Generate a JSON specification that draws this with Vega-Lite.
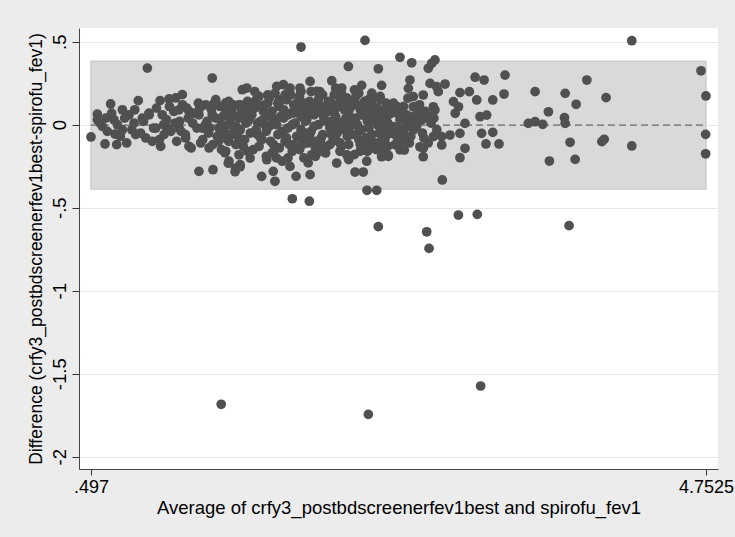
{
 "$schema": "https://vega.github.io/schema/vega-lite/v6.json",
 "width": 639,
 "height": 441,
 "autosize": {"type": "none"},
 "padding": {"left": 79, "top": 28, "right": 17, "bottom": 68},
 "background": "#ececec",
 "config": {"view": {"fill": "white", "stroke": null}, "font": "Liberation Sans Narrow, Liberation Sans, sans-serif"},
 "datasets": {
  "band": [{"x1": 0.497, "x2": 4.7525, "lo": -0.387, "hi": 0.383, "mean": -0.002}],
  "points": [
   {"avg":0.497,"diff":-0.074},{"avg":0.887,"diff":0.341},{"avg":1.336,"diff":0.281},{"avg":0.633,"diff":0.125},{"avg":0.541,"diff":0.064},{"avg":0.541,"diff":0.030},{"avg":0.599,"diff":0.040},{"avg":0.656,"diff":0.030},{"avg":0.575,"diff":-0.010},{"avg":0.594,"diff":-0.116},{"avg":0.675,"diff":-0.120},{"avg":0.744,"diff":-0.110},{"avg":0.663,"diff":-0.056},{"avg":0.714,"diff":-0.030},{"avg":0.714,"diff":0.090},{"avg":0.760,"diff":0.060},{"avg":0.824,"diff":0.145},{"avg":0.795,"diff":0.010},{"avg":0.806,"diff":-0.060},{"avg":0.876,"diff":-0.080},{"avg":0.921,"diff":-0.100},{"avg":0.979,"diff":-0.130},{"avg":0.898,"diff":0.070},{"avg":0.852,"diff":0.040},{"avg":0.975,"diff":0.145},{"avg":1.037,"diff":0.155},{"avg":1.083,"diff":0.161},{"avg":1.129,"diff":0.181},{"avg":0.990,"diff":0.060},{"avg":0.945,"diff":-0.020},{"avg":1.002,"diff":-0.060},{"avg":1.025,"diff":-0.020},{"avg":1.106,"diff":0.090},{"avg":1.175,"diff":0.080},{"avg":1.106,"diff":-0.020},{"avg":1.152,"diff":-0.080},{"avg":1.175,"diff":-0.130},{"avg":1.244,"diff":0.060},{"avg":1.267,"diff":-0.020},{"avg":1.256,"diff":-0.110},{"avg":1.314,"diff":-0.140},{"avg":1.244,"diff":-0.281},{"avg":1.341,"diff":-0.271},{"avg":1.291,"diff":0.120},{"avg":1.360,"diff":0.151},{"avg":1.429,"diff":0.131},{"avg":1.475,"diff":0.100},{"avg":1.521,"diff":0.120},{"avg":1.544,"diff":0.211},{"avg":1.336,"diff":0.060},{"avg":1.383,"diff":-0.020},{"avg":1.452,"diff":0.000},{"avg":1.429,"diff":-0.080},{"avg":1.429,"diff":-0.160},{"avg":1.452,"diff":-0.220},{"avg":1.498,"diff":-0.261},{"avg":1.521,"diff":-0.181},{"avg":1.498,"diff":-0.060},{"avg":1.521,"diff":0.040},
   {"avg":1.950,"diff":0.468},{"avg":2.393,"diff":0.508},{"avg":2.635,"diff":0.406},{"avg":2.278,"diff":0.351},{"avg":2.485,"diff":0.337},{"avg":1.575,"diff":0.221},{"avg":1.782,"diff":0.231},{"avg":1.828,"diff":0.241},{"avg":1.874,"diff":0.221},{"avg":1.943,"diff":0.221},{"avg":2.013,"diff":0.261},{"avg":2.059,"diff":0.201},{"avg":2.163,"diff":0.265},{"avg":2.232,"diff":0.221},{"avg":2.267,"diff":0.161},{"avg":2.370,"diff":0.237},{"avg":2.416,"diff":0.151},{"avg":2.508,"diff":0.237},{"avg":2.497,"diff":0.171},{"avg":2.612,"diff":0.111},{"avg":2.554,"diff":0.060},{"avg":2.474,"diff":0.080},{"avg":2.405,"diff":0.040},{"avg":1.678,"diff":-0.311},{"avg":1.758,"diff":-0.281},{"avg":1.770,"diff":-0.341},{"avg":1.916,"diff":-0.311},{"avg":2.013,"diff":-0.301},{"avg":2.197,"diff":-0.231},{"avg":2.324,"diff":-0.285},{"avg":2.381,"diff":-0.285},{"avg":2.407,"diff":-0.395},{"avg":2.474,"diff":-0.395},{"avg":1.890,"diff":-0.446},{"avg":2.008,"diff":-0.461},{"avg":1.713,"diff":-0.211},{"avg":1.758,"diff":-0.170},{"avg":1.874,"diff":-0.251},{"avg":1.598,"diff":-0.201},{"avg":1.529,"diff":-0.241},{"avg":2.024,"diff":-0.181},{"avg":2.082,"diff":-0.110},{"avg":2.220,"diff":-0.110},{"avg":2.267,"diff":-0.181},{"avg":2.359,"diff":-0.160},{"avg":2.451,"diff":-0.140},{"avg":2.520,"diff":-0.181},{"avg":2.554,"diff":-0.190},{"avg":2.635,"diff":-0.151},{"avg":2.658,"diff":-0.080},{"avg":2.405,"diff":-0.220},{"avg":2.531,"diff":-0.080},{"avg":2.531,"diff":-0.110},
   {"avg":2.485,"diff":-0.614},{"avg":1.494,"diff":-0.283},{"avg":1.529,"diff":-0.253},{"avg":1.447,"diff":-0.232},{"avg":1.424,"diff":-0.169},
   {"avg":2.716,"diff":0.373},{"avg":2.831,"diff":0.340},{"avg":2.855,"diff":0.370},{"avg":2.877,"diff":0.390},{"avg":2.704,"diff":0.269},{"avg":2.693,"diff":0.219},{"avg":2.727,"diff":0.169},{"avg":2.796,"diff":0.179},{"avg":2.727,"diff":0.108},{"avg":2.843,"diff":0.249},{"avg":2.889,"diff":0.229},{"avg":2.947,"diff":0.245},{"avg":2.900,"diff":0.199},{"avg":3.050,"diff":0.193},{"avg":3.115,"diff":0.199},{"avg":3.166,"diff":0.149},{"avg":3.005,"diff":0.139},{"avg":3.040,"diff":0.108},{"avg":3.017,"diff":0.069},{"avg":3.155,"diff":0.286},{"avg":3.217,"diff":0.269},{"avg":3.362,"diff":0.299},{"avg":3.355,"diff":0.185},{"avg":3.277,"diff":0.149},{"avg":2.866,"diff":0.108},{"avg":2.877,"diff":0.089},{"avg":2.843,"diff":0.028},{"avg":2.785,"diff":0.028},{"avg":2.751,"diff":0.028},{"avg":2.635,"diff":0.028},{"avg":2.612,"diff":0.108},{"avg":2.589,"diff":-0.012},{"avg":2.681,"diff":-0.012},{"avg":2.727,"diff":-0.032},{"avg":2.658,"diff":-0.052},{"avg":2.624,"diff":-0.082},{"avg":2.566,"diff":-0.052},{"avg":2.520,"diff":-0.032},{"avg":2.531,"diff":-0.082},{"avg":2.508,"diff":-0.133},{"avg":2.497,"diff":0.028},{"avg":2.554,"diff":-0.183},{"avg":2.508,"diff":-0.193},{"avg":2.665,"diff":-0.153},{"avg":2.796,"diff":-0.193},{"avg":2.796,"diff":-0.142},{"avg":2.773,"diff":-0.133},{"avg":2.866,"diff":-0.072},{"avg":2.924,"diff":-0.072},{"avg":2.924,"diff":-0.122},{"avg":2.981,"diff":-0.062},{"avg":3.050,"diff":-0.052},{"avg":3.085,"diff":0.008},{"avg":3.085,"diff":-0.142},{"avg":3.050,"diff":-0.199},{"avg":2.928,"diff":-0.333},{"avg":3.189,"diff":0.048},{"avg":3.235,"diff":0.058},{"avg":3.200,"diff":-0.052},{"avg":3.277,"diff":-0.046},{"avg":3.230,"diff":-0.116},{"avg":3.320,"diff":-0.116},{"avg":3.570,"diff":0.199},{"avg":3.523,"diff":0.008},{"avg":3.570,"diff":0.018},{"avg":3.623,"diff":0.002},{"avg":3.662,"diff":0.078},{"avg":3.778,"diff":0.189},{"avg":3.773,"diff":0.042},{"avg":3.778,"diff":0.008},{"avg":3.854,"diff":0.123},{"avg":3.928,"diff":0.269},{"avg":4.061,"diff":0.163},{"avg":3.812,"diff":-0.106},{"avg":3.669,"diff":-0.219},{"avg":3.847,"diff":-0.209},{"avg":4.032,"diff":-0.102},{"avg":4.048,"diff":-0.088},{"avg":4.239,"diff":-0.128},{"avg":4.239,"diff":0.506},{"avg":4.718,"diff":0.325},{"avg":4.752,"diff":0.173},{"avg":4.750,"diff":-0.058},{"avg":4.750,"diff":-0.175},{"avg":3.039,"diff":-0.544},{"avg":3.170,"diff":-0.540},{"avg":2.820,"diff":-0.645},{"avg":2.836,"diff":-0.745},{"avg":3.805,"diff":-0.608},
   {"avg":1.398,"diff":-1.684},{"avg":2.416,"diff":-1.745},{"avg":3.193,"diff":-1.574},
   {"avg":1.30,"diff":0.02},{"avg":1.31,"diff":-0.05},{"avg":1.33,"diff":0.09},{"avg":1.34,"diff":-0.12},{"avg":1.36,"diff":0.04},{"avg":1.37,"diff":-0.07},{"avg":1.39,"diff":0.11},{"avg":1.40,"diff":0.00},{"avg":1.42,"diff":-0.04},{"avg":1.43,"diff":0.07},{"avg":1.45,"diff":-0.10},{"avg":1.46,"diff":0.03},{"avg":1.48,"diff":0.12},{"avg":1.49,"diff":-0.02},{"avg":1.51,"diff":0.05},{"avg":1.52,"diff":-0.08},{"avg":1.54,"diff":0.09},{"avg":1.55,"diff":-0.13},{"avg":1.57,"diff":0.01},{"avg":1.58,"diff":0.14},{"avg":1.60,"diff":-0.05},
   {"avg":1.61,"diff":0.06},{"avg":1.62,"diff":-0.15},{"avg":1.63,"diff":0.10},{"avg":1.64,"diff":-0.03},{"avg":1.66,"diff":0.17},{"avg":1.67,"diff":0.02},{"avg":1.68,"diff":-0.09},{"avg":1.69,"diff":0.08},{"avg":1.71,"diff":-0.19},{"avg":1.72,"diff":0.13},{"avg":1.73,"diff":-0.01},{"avg":1.74,"diff":0.05},{"avg":1.76,"diff":-0.12},{"avg":1.77,"diff":0.19},{"avg":1.78,"diff":0.00},{"avg":1.79,"diff":-0.06},{"avg":1.80,"diff":0.11},{"avg":1.82,"diff":-0.22},{"avg":1.83,"diff":0.04},{"avg":1.84,"diff":-0.10},{"avg":1.85,"diff":0.15},{"avg":1.86,"diff":-0.02},{"avg":1.88,"diff":0.07},{"avg":1.89,"diff":-0.16},{"avg":1.90,"diff":0.12},{"avg":1.91,"diff":0.01},{"avg":1.92,"diff":-0.07},{"avg":1.94,"diff":0.17},{"avg":1.95,"diff":-0.03},{"avg":1.96,"diff":0.09},{"avg":1.97,"diff":-0.20},{"avg":1.99,"diff":0.03},{"avg":2.00,"diff":-0.11},
   {"avg":2.01,"diff":0.14},{"avg":2.02,"diff":-0.04},{"avg":2.04,"diff":0.06},{"avg":2.05,"diff":-0.14},{"avg":2.06,"diff":0.10},{"avg":2.07,"diff":0.00},{"avg":2.09,"diff":-0.08},{"avg":2.10,"diff":0.18},{"avg":2.11,"diff":0.03},{"avg":2.12,"diff":-0.17},{"avg":2.14,"diff":0.08},{"avg":2.15,"diff":-0.02},{"avg":2.16,"diff":0.13},{"avg":2.17,"diff":-0.10},{"avg":2.19,"diff":0.05},{"avg":2.20,"diff":-0.05},{"avg":2.21,"diff":0.11},{"avg":2.23,"diff":-0.13},{"avg":2.24,"diff":0.01},{"avg":2.25,"diff":0.16},{"avg":2.27,"diff":-0.07},{"avg":2.28,"diff":0.07},{"avg":2.29,"diff":-0.01},{"avg":2.31,"diff":0.12},{"avg":2.32,"diff":-0.18},{"avg":2.33,"diff":0.04},{"avg":2.35,"diff":-0.09},{"avg":2.36,"diff":0.09},{"avg":2.37,"diff":-0.03},{"avg":2.39,"diff":0.14},{"avg":2.40,"diff":-0.12},{"avg":2.41,"diff":0.02},{"avg":2.43,"diff":0.07},{"avg":2.44,"diff":-0.06},{"avg":2.45,"diff":0.11},{"avg":2.47,"diff":-0.15},{"avg":2.48,"diff":0.00},{"avg":2.49,"diff":0.05},
   {"avg":2.51,"diff":-0.09},{"avg":2.53,"diff":0.09},{"avg":2.55,"diff":0.01},{"avg":2.57,"diff":-0.04},{"avg":2.59,"diff":0.13},{"avg":2.61,"diff":-0.02},{"avg":2.63,"diff":0.06},{"avg":2.65,"diff":-0.10},{"avg":2.67,"diff":0.03},{"avg":2.69,"diff":0.16},{"avg":2.71,"diff":-0.07},{"avg":2.73,"diff":0.05},{"avg":2.75,"diff":-0.01},{"avg":2.77,"diff":0.12},{"avg":2.79,"diff":-0.05},{"avg":2.81,"diff":0.08},{"avg":2.83,"diff":-0.11},{"avg":2.85,"diff":0.01},{"avg":2.87,"diff":0.04},{"avg":2.89,"diff":-0.03},
   {"avg":1.02,"diff":0.03},{"avg":1.05,"diff":-0.04},{"avg":1.07,"diff":0.08},{"avg":1.09,"diff":-0.10},{"avg":1.11,"diff":0.02},{"avg":1.13,"diff":0.12},{"avg":1.15,"diff":-0.06},{"avg":1.17,"diff":0.04},{"avg":1.19,"diff":-0.14},{"avg":1.21,"diff":0.07},{"avg":1.23,"diff":-0.02},{"avg":1.25,"diff":0.10},{"avg":1.27,"diff":-0.09},{"avg":1.29,"diff":0.00},
   {"avg":0.56,"diff":0.01},{"avg":0.61,"diff":-0.04},{"avg":0.64,"diff":0.07},{"avg":0.68,"diff":0.00},{"avg":0.70,"diff":-0.07},{"avg":0.73,"diff":0.04},{"avg":0.78,"diff":-0.03},{"avg":0.80,"diff":0.09},{"avg":0.84,"diff":-0.05},{"avg":0.86,"diff":0.02},{"avg":0.90,"diff":0.06},{"avg":0.93,"diff":-0.02},{"avg":0.95,"diff":0.10},{"avg":0.97,"diff":-0.09},
   {"avg":1.55,"diff":0.04},{"avg":1.65,"diff":-0.06},{"avg":1.75,"diff":0.08},{"avg":1.85,"diff":-0.08},{"avg":1.95,"diff":0.05},{"avg":2.05,"diff":0.12},{"avg":2.15,"diff":-0.12},{"avg":2.25,"diff":0.09},{"avg":2.35,"diff":-0.04},{"avg":2.45,"diff":0.03},{"avg":1.70,"diff":0.00},{"avg":1.80,"diff":0.15},{"avg":1.90,"diff":-0.12},{"avg":2.00,"diff":0.08},{"avg":2.10,"diff":-0.06},{"avg":2.20,"diff":0.02},{"avg":2.30,"diff":0.14},{"avg":2.40,"diff":-0.08},{"avg":1.60,"diff":0.11},{"avg":1.50,"diff":-0.12},{"avg":1.45,"diff":0.14},{"avg":2.55,"diff":-0.13},{"avg":2.62,"diff":0.10},{"avg":2.70,"diff":-0.11},{"avg":1.75,"diff":-0.17},{"avg":2.05,"diff":-0.19},{"avg":2.35,"diff":0.19},{"avg":1.95,"diff":0.20},{"avg":1.40,"diff":-0.15},{"avg":2.50,"diff":0.15},
   {"avg":1.41,"diff":0.05},{"avg":1.44,"diff":-0.06},{"avg":1.47,"diff":0.08},{"avg":1.50,"diff":-0.01},{"avg":1.53,"diff":0.12},{"avg":1.56,"diff":-0.09},{"avg":1.59,"diff":0.03},{"avg":1.62,"diff":0.13},{"avg":1.65,"diff":0.01},{"avg":1.68,"diff":0.11},{"avg":1.71,"diff":-0.04},{"avg":1.74,"diff":-0.10},{"avg":1.77,"diff":0.03},{"avg":1.80,"diff":-0.14},{"avg":1.83,"diff":0.09},{"avg":1.86,"diff":0.06},{"avg":1.89,"diff":0.00},{"avg":1.92,"diff":0.10},{"avg":1.95,"diff":-0.08},{"avg":1.98,"diff":0.13},{"avg":2.01,"diff":-0.07},{"avg":2.04,"diff":-0.01},{"avg":2.07,"diff":0.15},{"avg":2.10,"diff":0.06},{"avg":2.13,"diff":-0.13},{"avg":2.16,"diff":0.02},{"avg":2.19,"diff":-0.09},{"avg":2.22,"diff":0.14},{"avg":2.25,"diff":-0.03},{"avg":2.28,"diff":-0.12},{"avg":2.31,"diff":0.03},{"avg":2.34,"diff":0.12},{"avg":2.37,"diff":0.06},{"avg":2.40,"diff":0.10},{"avg":2.43,"diff":-0.10},{"avg":2.46,"diff":0.08},{"avg":2.49,"diff":-0.05},{"avg":2.52,"diff":0.04},{"avg":2.56,"diff":0.11},{"avg":2.60,"diff":-0.06},{"avg":2.64,"diff":-0.03},{"avg":2.68,"diff":0.06},{"avg":2.72,"diff":0.01},{"avg":2.76,"diff":0.07},{"avg":2.80,"diff":-0.08},{"avg":2.84,"diff":0.05},{"avg":1.64,"diff":0.15},{"avg":1.72,"diff":0.18},{"avg":1.88,"diff":0.18},{"avg":2.02,"diff":0.20},{"avg":2.18,"diff":0.18},{"avg":2.33,"diff":0.17},{"avg":2.44,"diff":0.19},{"avg":1.66,"diff":-0.13},{"avg":1.78,"diff":-0.20},{"avg":1.94,"diff":-0.15},{"avg":2.08,"diff":-0.16},{"avg":2.22,"diff":-0.16},{"avg":2.38,"diff":-0.15},{"avg":2.60,"diff":-0.12},{"avg":1.35,"diff":0.13},{"avg":1.38,"diff":-0.10},{"avg":1.32,"diff":-0.02},{"avg":1.20,"diff":0.01},{"avg":1.24,"diff":0.13},{"avg":1.16,"diff":0.10},{"avg":1.12,"diff":-0.04},{"avg":1.08,"diff":0.01},{"avg":1.04,"diff":0.11},{"avg":1.00,"diff":0.00},
   {"avg":1.63,"diff":0.20},{"avg":1.67,"diff":-0.08},{"avg":1.70,"diff":0.12},{"avg":1.73,"diff":0.16},{"avg":1.76,"diff":0.02},{"avg":1.79,"diff":0.13},{"avg":1.81,"diff":0.05},{"avg":1.84,"diff":0.18},{"avg":1.87,"diff":-0.12},{"avg":1.90,"diff":0.07},{"avg":1.93,"diff":0.14},{"avg":1.96,"diff":-0.12},{"avg":1.98,"diff":0.02},{"avg":2.03,"diff":0.10},{"avg":2.06,"diff":-0.10},{"avg":2.08,"diff":0.20},{"avg":2.11,"diff":0.11},{"avg":2.13,"diff":0.02},{"avg":2.16,"diff":-0.06},{"avg":2.18,"diff":0.08},{"avg":2.21,"diff":-0.01},{"avg":2.23,"diff":0.19},{"avg":2.26,"diff":0.04},{"avg":2.29,"diff":0.10},{"avg":2.30,"diff":-0.06},{"avg":2.32,"diff":0.21},{"avg":2.34,"diff":0.00},{"avg":2.36,"diff":-0.12},{"avg":2.38,"diff":0.11},{"avg":2.42,"diff":-0.02},{"avg":2.44,"diff":0.15},{"avg":2.46,"diff":-0.11},{"avg":2.48,"diff":0.10},{"avg":2.50,"diff":0.01},{"avg":2.52,"diff":-0.14},{"avg":2.54,"diff":0.13},{"avg":2.58,"diff":0.07},{"avg":2.62,"diff":-0.08},{"avg":2.66,"diff":0.11},{"avg":2.70,"diff":0.04},{"avg":1.57,"diff":0.08},{"avg":1.53,"diff":-0.03},{"avg":1.47,"diff":-0.06},{"avg":1.43,"diff":0.10},{"avg":1.58,"diff":-0.16},{"avg":1.69,"diff":0.03},{"avg":1.82,"diff":-0.04},{"avg":1.98,"diff":-0.05},{"avg":2.14,"diff":0.14},{"avg":2.27,"diff":0.13},{"avg":2.41,"diff":-0.16},{"avg":1.87,"diff":0.21},{"avg":2.19,"diff":0.22},{"avg":2.00,"diff":-0.23},{"avg":2.28,"diff":-0.21},{"avg":1.86,"diff":-0.20}
  ]
 },
 "layer": [
  {
   "data": {"name": "band"},
   "mark": {"type": "rect", "fill": "#d9d9d9", "stroke": "#cdcdcd", "strokeWidth": 1.5},
   "encoding": {
    "x": {"field": "x1", "type": "quantitative", "title": "Average of crfy3_postbdscreenerfev1best and spirofu_fev1",
     "scale": {"domain": [0.414, 4.8355], "nice": false, "zero": false},
     "axis": {"values": [0.497, 4.7525], "labelExpr": "datum.value < 1 ? '.497' : '4.7525'", "grid": false, "labelFontSize": 18, "labelColor": "#000", "labelPadding": 3, "labelBound": false, "labelFlush": false, "labelOverlap": false, "tickSize": 6, "tickColor": "#333", "domainColor": "#444", "titleFontSize": 18.5, "titleFontWeight": "normal", "titleColor": "#000", "titlePadding": 2}},
    "x2": {"field": "x2"},
    "y": {"field": "lo", "type": "quantitative", "title": "Difference (crfy3_postbdscreenerfev1best-spirofu_fev1)",
     "scale": {"domain": [-2.074, 0.5826], "nice": false, "zero": false},
     "axis": {"values": [-2, -1.5, -1, -0.5, 0, 0.5], "labelExpr": "datum.value == 0.5 ? '.5' : datum.value == 0 ? '0' : datum.value == -0.5 ? '-.5' : datum.value == -1 ? '-1' : datum.value == -1.5 ? '-1.5' : '-2'", "labelAngle": 270, "labelAlign": "center", "labelBaseline": "bottom", "labelFontSize": 18.5, "labelColor": "#000", "labelPadding": 3, "tickSize": 7, "tickColor": "#333", "domainColor": "#444", "grid": true, "gridColor": "#e8e8e8", "titleFontSize": 17.5, "titleFontWeight": "normal", "titleColor": "#000", "titlePadding": 5}},
    "y2": {"field": "hi"}
   }
  },
  {
   "data": {"name": "band"},
   "mark": {"type": "rule", "color": "#666666", "strokeDash": [7, 4], "strokeWidth": 1.3},
   "encoding": {
    "x": {"field": "x1", "type": "quantitative", "title": "Average of crfy3_postbdscreenerfev1best and spirofu_fev1"},
    "x2": {"field": "x2"},
    "y": {"field": "mean", "type": "quantitative", "title": "Difference (crfy3_postbdscreenerfev1best-spirofu_fev1)"}
   }
  },
  {
   "data": {"name": "points"},
   "mark": {"type": "circle", "size": 95, "color": "#505050", "opacity": 1},
   "encoding": {
    "x": {"field": "avg", "type": "quantitative", "title": "Average of crfy3_postbdscreenerfev1best and spirofu_fev1"},
    "y": {"field": "diff", "type": "quantitative", "title": "Difference (crfy3_postbdscreenerfev1best-spirofu_fev1)"}
   }
  }
 ]
}
